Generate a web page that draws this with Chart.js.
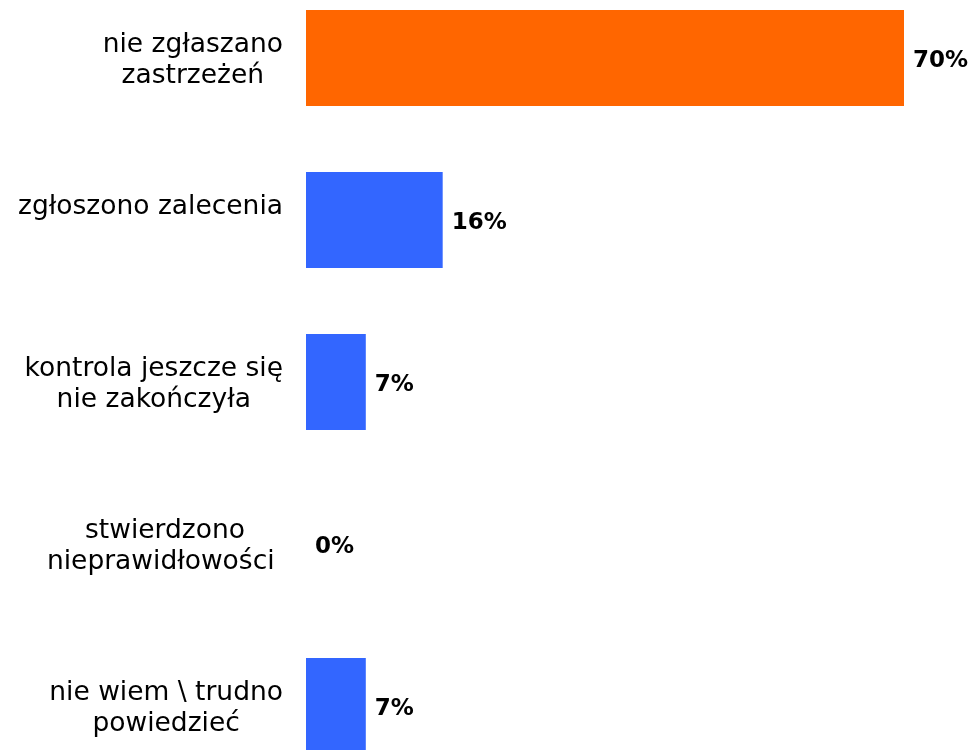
<!DOCTYPE html>
<html>
<head>
<meta charset="utf-8">
<script src="https://cdn.jsdelivr.net/npm/chart.js@4"></script>
<style>
  html, body { margin: 0; padding: 0; background: #fff; overflow: hidden; }
  #wrap { position: absolute; left: 0; top: -23px; width: 971px; height: 810px; }
</style>
</head>
<body>
<div id="wrap"><canvas id="chart"></canvas></div>
<script>
// Odpowiedzi i udziały procentowe
const categories = [
  ['nie zgłaszano', 'zastrzeżeń'],
  ['zgłoszono zalecenia', ''],
  ['kontrola jeszcze się', 'nie zakończyła'],
  ['stwierdzono', 'nieprawidłowości '],
  ['nie wiem \\ trudno', 'powiedzieć']
];
const values = [70, 16, 7, 0, 7];
const barColors = ['#FF6600', '#3366FF', '#3366FF', '#3366FF', '#3366FF'];

const labelFont = '26.5px "DejaVu Sans"';
const valueFont = 'bold 23px "DejaVu Sans"';
const lineHeight = 31;
const labelRight = 283;

// Etykiety kategorii: linie wyśrodkowane, blok wyrównany do prawej
const categoryLabels = {
  id: 'categoryLabels',
  afterDraw(chart) {
    const ctx = chart.ctx;
    const yScale = chart.scales.y;
    ctx.save();
    ctx.font = labelFont;
    ctx.fillStyle = '#000';
    ctx.textAlign = 'center';
    ctx.textBaseline = 'middle';
    categories.forEach((lines, i) => {
      const yc = yScale.getPixelForValue(i) + 3;
      const maxW = Math.max(...lines.map(l => ctx.measureText(l).width));
      const xc = labelRight - maxW / 2;
      const top = yc - (lines.length - 1) * lineHeight / 2;
      lines.forEach((l, j) => ctx.fillText(l, xc, top + j * lineHeight));
    });
    ctx.restore();
  }
};

// Wartości procentowe za słupkami
const valueLabels = {
  id: 'valueLabels',
  afterDatasetsDraw(chart) {
    const ctx = chart.ctx;
    const meta = chart.getDatasetMeta(0);
    ctx.save();
    ctx.font = valueFont;
    ctx.fillStyle = '#000';
    ctx.textAlign = 'left';
    ctx.textBaseline = 'middle';
    meta.data.forEach((bar, i) => {
      ctx.fillText(values[i] + '%', bar.x + 9, bar.y + 3.5);
    });
    ctx.restore();
  }
};

new Chart(document.getElementById('chart'), {
  type: 'bar',
  data: {
    labels: categories,
    datasets: [{
      data: values,
      backgroundColor: barColors,
      borderWidth: 0,
      barPercentage: 0.593,
      categoryPercentage: 1
    }]
  },
  options: {
    indexAxis: 'y',
    responsive: true,
    maintainAspectRatio: false,
    animation: false,
    layout: { padding: { left: 306, right: 67, top: 0, bottom: 0 } },
    plugins: {
      legend: { display: false },
      tooltip: { enabled: false }
    },
    scales: {
      x: { display: false, min: 0, max: 70 },
      y: { display: false }
    }
  },
  plugins: [categoryLabels, valueLabels]
});
</script>
</body>
</html>
